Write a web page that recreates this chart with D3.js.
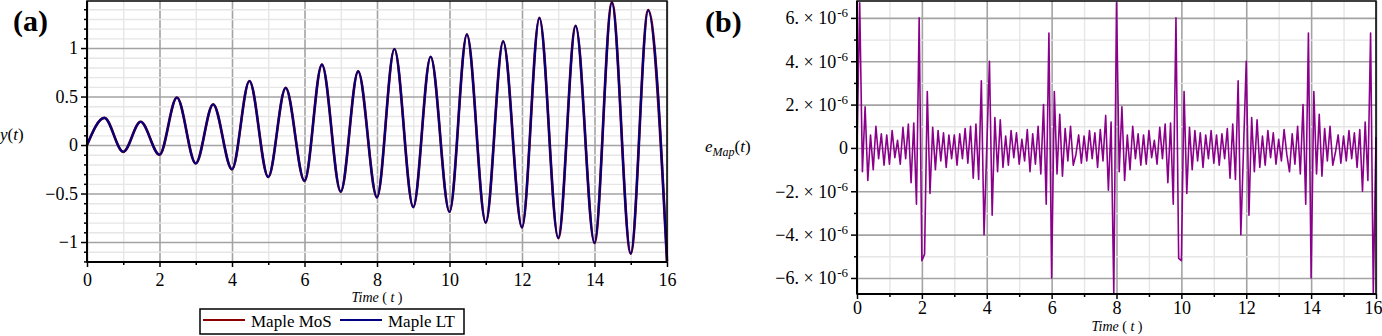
<!DOCTYPE html>
<html>
<head>
<meta charset="utf-8">
<script src="https://cdn.jsdelivr.net/npm/d3@7"></script>
<style>
  body { margin: 0; background: #fff; }
  svg { display: block; }
  svg text { font-family: "Liberation Serif", "Times New Roman", serif; }
</style>
</head>
<body>
<svg id="chart" width="1382" height="336"></svg>
<script>
// ---- data ----
// panel (a): y(t), extrema of the oscillation
var yTimes = [0, 0.48, 1, 1.48, 2, 2.48, 3, 3.48, 4, 4.48, 5, 5.48, 6, 6.48, 7, 7.48, 8,
              8.48, 9, 9.48, 10, 10.48, 11, 11.48, 12, 12.48, 13, 13.48, 14, 14.48, 15, 15.48, 16];
var yValues = [0, 0.28, -0.07, 0.24, -0.10, 0.49, -0.19, 0.42, -0.25, 0.66, -0.33, 0.59, -0.37,
               0.83, -0.48, 0.76, -0.54, 0.99, -0.64, 0.91, -0.69, 1.14, -0.80, 1.07, -0.85,
               1.31, -0.96, 1.23, -1.01, 1.47, -1.12, 1.39, -1.2];

// panel (b): e_Map(t) in units of 1e-6, one row per unit of t, 12 samples per row
var errorRows = [
  [0.0, 6.7, -1.1, 1.9, -1.5, 0.6, -1.0, 1.0, -0.5, 0.65, -0.8, 0.6],
  [-0.75, 0.8, -0.45, 0.35, -0.75, 0.95, -0.5, 1.1, -1.6, 1.15, -2.6, 6.0],
  [-5.2, -4.9, 2.6, -2.1, 0.95, -1.0, 0.8, -0.6, 0.7, -0.9, 0.6, -0.5],
  [0.6, -0.8, 0.65, -0.5, 0.9, -0.7, 1.0, -1.4, 1.1, -1.45, 3.1, -4.0],
  [0.0, 4.0, -3.1, 1.4, -1.1, 1.3, -0.9, 0.55, -0.8, 0.8, -0.45, 0.7],
  [-0.75, 0.4, -0.6, 0.85, -1.1, 0.65, -0.75, 1.0, -1.2, 2.0, -2.6, 5.3],
  [-6.0, 2.6, -1.2, 1.55, -1.3, 0.9, -0.6, 1.0, -0.8, -0.3, 0.6, -0.7],
  [0.55, -0.6, 0.8, -0.5, 0.7, -0.9, 0.85, -0.6, 1.5, -1.95, 1.2, -6.7],
  [6.7, -1.1, 1.9, -1.5, 0.6, -1.0, 1.0, -0.5, 0.65, -0.8, 0.6, -0.75],
  [0.8, -0.45, 0.35, -0.75, 0.95, -0.5, 1.1, -1.6, 1.15, -2.6, 6.0, -5.1],
  [-5.2, 2.6, -2.1, 0.95, -1.0, 0.8, -0.6, 0.7, -0.9, 0.6, -0.5, 0.8],
  [-0.7, 0.6, -0.8, 0.65, -0.5, 0.9, -1.4, 1.1, -1.45, 3.1, -4.0, 0.0],
  [4.0, -3.1, 1.4, -1.1, 1.3, -0.9, 0.55, -0.8, 0.8, -0.45, 0.7, -0.75],
  [0.4, -0.6, 0.85, -0.3, -1.1, 0.65, -0.75, 1.0, -1.2, 2.0, -2.6, 5.3],
  [-6.0, 2.6, -1.2, 1.55, -1.3, 0.9, -0.6, 1.0, -0.8, -0.2, 0.6, -0.7],
  [0.55, -0.6, 0.8, -0.5, 0.7, -0.9, 0.85, -2.0, 1.2, -1.5, 5.3, -6.7]
];
var errorEnd = 0.5;   // value at t = 16
var samplesPerUnit = 12;

var xTicks = [0, 2, 4, 6, 8, 10, 12, 14, 16];
var xMinorTicks = [1, 3, 5, 7, 9, 11, 13, 15];
var yTicksA = [-1, -0.5, 0, 0.5, 1];
var yTicksB = [-6, -4, -2, 0, 2, 4, 6];
var yMinorB = [-5, -3, -1, 1, 3, 5];

var legendNames = ["Maple MoS", "Maple LT"];
var seriesColors = ["#8b0000", "#000080"];
var errColor = "#8b008b";

// ---- setup ----
var svg = d3.select("#chart");
var tickSize = 18;
var majorGrid = "#a3a3a3", minorGrid = "#e6e6e6";

function grid(g, axisFn, scale, vals, pos, len, color, w) {
    g.append("g")
        .attr("transform", pos)
        .call(axisFn(scale).tickValues(vals).tickSize(-len).tickFormat(""))
        .call(function(s) { s.select(".domain").remove(); })
        .selectAll("line")
        .attr("stroke", color)
        .attr("stroke-width", w);
}

function styleAxis(s) {
    s.select(".domain").remove();
    s.selectAll(".tick line").attr("stroke", "#000").attr("stroke-width", 1.5);
    s.selectAll(".tick text")
        .attr("font-size", tickSize)
        .attr("fill", "#000");
}

function panelBase(x, y, yMajor, yMinor) {
    var g = svg.append("g");
    var x0 = x.range()[0], x1 = x.range()[1], y0 = y.range()[0], y1 = y.range()[1];
    // major verticals first so the light horizontals cut through them
    grid(g, d3.axisBottom, x, xTicks, "translate(0," + y0 + ")", y0 - y1, majorGrid, 1.6);
    grid(g, d3.axisBottom, x, xMinorTicks, "translate(0," + y0 + ")", y0 - y1, minorGrid, 1.4);
    grid(g, d3.axisLeft, y, yMinor, "translate(" + x0 + ",0)", x1 - x0, minorGrid, 1.4);
    grid(g, d3.axisLeft, y, yMajor, "translate(" + x0 + ",0)", x1 - x0, majorGrid, 1.6);
    return g;
}

// labelOffset: baseline of the x labels below the axis line
function panelFrame(g, x, y, yMajor, yMinor, yFormat, labelOffset) {
    var x0 = x.range()[0], x1 = x.range()[1], y0 = y.range()[0], y1 = y.range()[1];
    g.append("rect")
        .attr("x", x0).attr("y", y1)
        .attr("width", x1 - x0).attr("height", y0 - y1)
        .attr("fill", "none").attr("stroke", "#000").attr("stroke-width", 1.5);
    g.append("line").attr("x1", x0).attr("x2", x1).attr("y1", y0).attr("y2", y0)
        .attr("stroke", "#000").attr("stroke-width", 2);
    g.append("line").attr("x1", x0).attr("x2", x0).attr("y1", y0).attr("y2", y1)
        .attr("stroke", "#000").attr("stroke-width", 2);

    // x ticks
    g.append("g").attr("transform", "translate(0," + y0 + ")")
        .call(d3.axisBottom(x).tickValues(xMinorTicks).tickSize(3).tickFormat(""))
        .call(styleAxis);
    g.append("g").attr("class", "xlabels").attr("transform", "translate(0," + y0 + ")")
        .call(d3.axisBottom(x).tickValues(xTicks).tickSize(5).tickFormat(d3.format("d")))
        .call(styleAxis)
        .selectAll(".tick text").attr("y", labelOffset).attr("dy", 0);

    // y ticks
    g.append("g").attr("transform", "translate(" + x0 + ",0)")
        .call(d3.axisLeft(y).tickValues(yMinor).tickSize(3).tickFormat(""))
        .call(styleAxis);
    var ya = g.append("g").attr("transform", "translate(" + x0 + ",0)")
        .call(d3.axisLeft(y).tickValues(yMajor).tickSize(6).tickPadding(3).tickFormat(yFormat))
        .call(styleAxis);
    return ya;
}

// ---- panel (a) ----
var ax = d3.scaleLinear().domain([0, 16]).range([87, 667]);
var ay = d3.scaleLinear().domain([-1.206, 1.485]).range([262, 1]);
var yMinorA = d3.range(-12, 15).map(function(i) { return i / 10; })
    .filter(function(v) { return Math.abs(v * 2 - Math.round(v * 2)) > 1e-6; });

var ga = panelBase(ax, ay, yTicksA, yMinorA);
var yPts = yTimes.map(function(t, i) { return [t, yValues[i]]; });
var yLine = d3.line()
    .x(function(d) { return ax(d[0]); })
    .y(function(d) { return ay(d[1]); })
    .curve(d3.curveMonotoneX);
ga.append("path").datum(yPts).attr("d", yLine)
    .attr("fill", "none").attr("stroke", seriesColors[0]).attr("stroke-width", 2.7);
ga.append("path").datum(yPts).attr("d", yLine)
    .attr("fill", "none").attr("stroke", seriesColors[1]).attr("stroke-width", 2.1);

panelFrame(ga, ax, ay, yTicksA, yMinorA, function(d) { return d3.format("")(d); }, 24);

// ---- panel (b) ----
var bx = d3.scaleLinear().domain([0, 16]).range([857, 1376]);
var by = d3.scaleLinear().domain([-6.74, 6.78]).range([294, 1]);

var gb = panelBase(bx, by, yTicksB, yMinorB);
var errValues = d3.merge(errorRows).concat([errorEnd]);
var errLine = d3.line()
    .x(function(d, i) { return bx(i / samplesPerUnit); })
    .y(function(d) { return by(d); });
gb.append("path").datum(errValues).attr("d", errLine)
    .attr("fill", "none").attr("stroke", errColor).attr("stroke-width", 1.6)
    .attr("stroke-linejoin", "round");

var yb = panelFrame(gb, bx, by, yTicksB, yMinorB, function(d) { return d; }, 20);
yb.selectAll(".tick text").each(function(d) {
    if (d === 0) { d3.select(this).text("0"); return; }
    var t = d3.select(this).text(null);
    t.append("tspan").text((d < 0 ? "\u2212" : "") + Math.abs(d) + ". \u00d7 10");
    t.append("tspan").attr("dx", 1).attr("dy", -7).attr("font-size", 13).text("-6");
});
// last x label sits on the page edge, nudge it inside
gb.selectAll(".xlabels .tick text").filter(function(d) { return d === 16; }).attr("dx", -3);

// ---- labels ----
function addText(x, y, parts, size, anchor) {
    var t = svg.append("text")
        .attr("x", x).attr("y", y)
        .attr("font-size", size)
        .attr("text-anchor", anchor || "start");
    parts.forEach(function(p) {
        var s = t.append("tspan").text(p.s);
        if (p.i) s.attr("font-style", "italic");
        if (p.fs) s.attr("font-size", p.fs);
        if (p.dy) s.attr("dy", p.dy);
    });
    return t;
}

addText(13, 31, [{s: "(a)"}], 30).attr("font-weight", "bold");
addText(705, 32, [{s: "(b)"}], 30).attr("font-weight", "bold");

addText(0, 140, [{s: "y", i: 1}, {s: "("}, {s: "t", i: 1}, {s: ")"}], 17);
addText(377, 302, [{s: "Time", i: 1}, {s: " ( "}, {s: "t", i: 1}, {s: " )"}], 14, "middle");
addText(1117, 331, [{s: "Time", i: 1}, {s: " ( "}, {s: "t", i: 1}, {s: " )"}], 14, "middle");
addText(705, 152, [{s: "e", i: 1}, {s: "Map", i: 1, fs: 12, dy: 4},
                   {s: "(", dy: -4}, {s: "t", i: 1}, {s: ")"}], 17);

// ---- legend ----
var lg = svg.append("g");
lg.append("rect").attr("x", 200).attr("y", 309).attr("width", 264).attr("height", 25)
    .attr("fill", "#fff").attr("stroke", "#000").attr("stroke-width", 1.5);
var legendX = [203, 340];
legendNames.forEach(function(name, i) {
    lg.append("line")
        .attr("x1", legendX[i]).attr("x2", legendX[i] + 42)
        .attr("y1", 320).attr("y2", 320)
        .attr("stroke", seriesColors[i]).attr("stroke-width", 2);
    lg.append("text")
        .attr("x", legendX[i] + 48).attr("y", 327)
        .attr("font-size", 17)
        .text(name);
});
</script>
</body>
</html>
